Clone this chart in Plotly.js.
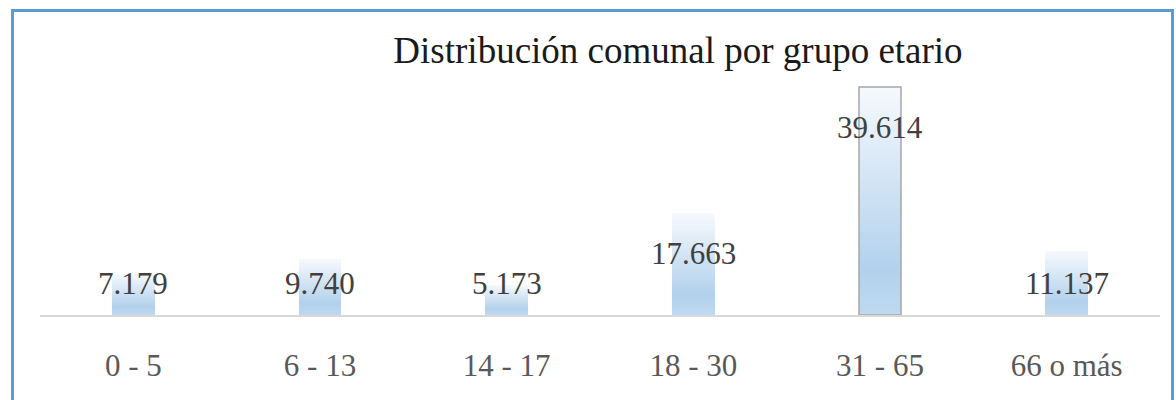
<!DOCTYPE html>
<html>
<head>
<meta charset="utf-8">
<script src="https://cdn.plot.ly/plotly-3.0.1.min.js"></script>
<style>
  html, body { margin: 0; padding: 0; background: #ffffff; }
  #wrap { position: relative; width: 1176px; height: 400px; overflow: hidden; }
  #frame { position: absolute; left: 11px; top: 9px; width: 1157px; height: 420px;
           border: 3px solid #5b9bd5; border-bottom: none; pointer-events: none; }
  #chart { position: absolute; left: 0; top: 0; width: 1176px; height: 400px; }
</style>
</head>
<body>
<div id="wrap">
  <div id="chart"></div>
  <div id="frame"></div>
</div>
<script>
// ---- data ----
const categories = ["0 - 5", "6 - 13", "14 - 17", "18 - 30", "31 - 65", "66 o más"];
const values = [7179, 9740, 5173, 17663, 39614, 11137];
const labels = ["7.179", "9.740", "5.173", "17.663", "39.614", "11.137"];
const chartTitle = "Distribución comunal por grupo etario";

// ---- gradient fill: overlaid bars of decreasing height ----
function lerp(a, b, t) { return Math.round(a + (b - a) * t); }
function mix(c1, c2, t) {
  return "rgb(" + lerp(c1[0], c2[0], t) + "," + lerp(c1[1], c2[1], t) + "," + lerp(c1[2], c2[2], t) + ")";
}
const bottomCol = [192, 217, 240];
const midCol = [178, 209, 236];
const topCol = [246, 249, 253];
function gradColor(f) {
  if (f < 0.2) return mix(bottomCol, midCol, f / 0.2);
  return mix(midCol, topCol, (f - 0.2) / 0.8);
}
const N = 60;
const traces = [];
for (let k = 0; k < N; k++) {
  const frac = 1 - k / N;           // height fraction of this layer
  traces.push({
    type: "bar",
    x: categories,
    y: values.map(v => v * frac),
    marker: { color: gradColor(frac - 0.5 / N), line: { width: 0 } },
    hoverinfo: "skip",
    showlegend: false
  });
}
// outline (selected bar has a grey border in the reference)
traces.push({
  type: "bar",
  x: categories,
  y: values,
  marker: {
    color: "rgba(0,0,0,0)",
    line: { color: "#a6a6a6", width: values.map((v, i) => i === 4 ? 1.5 : 0) }
  },
  hoverinfo: "skip",
  showlegend: false
});

const annotations = categories.map((c, i) => ({
  x: c,
  y: Math.max(values[i] - 7000, 5560),
  xref: "x", yref: "y",
  text: labels[i],
  showarrow: false,
  yanchor: "middle",
  font: { family: "Liberation Serif, serif", size: 31, color: "#404040" }
}));

const layout = {
  width: 1176, height: 400,
  margin: { l: 40, r: 16, t: 56, b: 85 },
  paper_bgcolor: "rgba(0,0,0,0)",
  plot_bgcolor: "rgba(0,0,0,0)",
  barmode: "overlay",
  bargap: 0.775,
  title: {
    text: chartTitle,
    x: 678 / 1176, xref: "container", xanchor: "center",
    y: 1 - 50 / 400, yref: "container", yanchor: "middle",
    font: { family: "Liberation Serif, serif", size: 37, color: "#1a1a1a" }
  },
  xaxis: {
    type: "category",
    showline: true, linecolor: "#d9d9d9", linewidth: 2,
    ticks: "", showgrid: false, zeroline: false,
    ticklabelstandoff: 22,
    tickfont: { family: "Liberation Serif, serif", size: 31, color: "#595959" },
    fixedrange: true
  },
  yaxis: {
    range: [0, 45000],
    visible: false, showgrid: false, zeroline: false, fixedrange: true
  },
  annotations: annotations,
  font: { family: "Liberation Serif, serif" }
};

Plotly.newPlot("chart", traces, layout, { displayModeBar: false, staticPlot: true });
</script>
</body>
</html>
